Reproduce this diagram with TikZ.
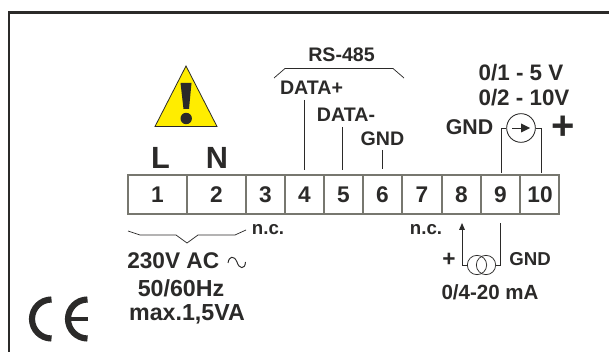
\documentclass[tikz,border=0pt]{standalone}
\usepackage{fontspec}
\setmainfont{Liberation Sans}
\definecolor{ink}{HTML}{2B2A29}
\definecolor{strip}{HTML}{77776F}
\definecolor{warn}{HTML}{FFED00}
\newcommand{\fsz}[1]{\bfseries\fontsize{#1}{#1}\selectfont}
\tikzset{
  txt/.style={text=ink,inner sep=0pt,font=\fsz{#1}},
  wire/.style={draw=ink,line width=0.55pt},
  cell/.style={draw=strip,line width=1.6pt}
}
\begin{document}
\begin{tikzpicture}[x=0.75pt,y=-0.75pt]
\useasboundingbox (0,0) rectangle (609,352);
\fill[white] (0,0) rectangle (609,352);
% frame
\draw[draw=ink,line width=2pt] (9,352) -- (9,12.5) -- (609,12.5);
% warning triangle
\draw[fill=warn,draw=ink,line width=0.6pt,line join=miter] (186,66) -- (155,126.5) -- (217,126.5) -- cycle;
\fill[ink] (180.5,83) -- (191.5,83) -- (189,109) -- (183.5,109) -- cycle;
\fill[ink] (186.2,118.5) circle (5.7);
% terminal strip
\draw[cell] (128,175) rectangle (559,214);
\foreach \x in {187,246,285,324,363,402,442,481,520}
  \draw[cell] (\x,175) -- (\x,214);
\foreach \x/\t/\n in {157.5/1/t1,216.5/2/t2,265.5/3/t3,304.5/4/t4,343.5/5/t5,382.5/6/t6,422/7/t7,461.5/8/t8,500.5/9/t9,540/10/t10}
  \node[txt=17] (\n) at (\x,195) {\t};
% L N
\node[txt=23] (L) at (160.5,158) {L};
\node[txt=23] (N) at (217,158) {N};
% RS-485
\node[txt=14.7] (rs) at (341.5,55) {RS-485};
\coordinate (b1) at (274,78);
\coordinate (b2) at (404,78);
\draw[wire] (b1) -- (285,68.5) -- (393,68.5) -- (b2);
\node[txt=14.7] (dp) at (311.5,88) {DATA+};
\node[txt=14.7] (dm) at (346,115) {DATA-};
\node[txt=14.7] (g6) at (382.5,139) {GND};
\coordinate (a4t) at (304.5,100);
\coordinate (a4) at (304.5,170);
\coordinate (a5t) at (342,127);
\coordinate (a5) at (342,170);
\coordinate (a6t) at (382.5,150);
\coordinate (a6) at (382.5,169);
\draw[wire] (a4t) -- (a4);
\draw[wire] (a5t) -- (a5);
\draw[wire] (a6t) -- (a6);
% voltage
\node[txt=16.8] (v1) at (521,73) {0/1 - 5 V};
\node[txt=16.8] (v2) at (524,98) {0/2 - 10V};
\node[txt=16] (g9) at (469.5,127) {GND};
\node[txt=30] (plus) at (563.5,127.5) {+};
\node[circle,draw=ink,line width=0.65pt,inner sep=0pt,minimum size=21.5pt] (vm) at (521,128) {};
\coordinate (a9) at (501,173);
\coordinate (a10) at (541.5,173);
\draw[wire] (vm.west) -| (a9);
\draw[wire] (vm.east) -| (a10);
\coordinate (m1) at (512,128);
\coordinate (m2) at (524,128);
\draw[wire] (m1) -- (m2);
\fill[ink] (521,123.5) -- (530,128) -- (521,132.5) -- cycle;
% lower left
\coordinate (bl) at (128,231);
\coordinate (br) at (246,230);
\draw[wire] (bl) -- (140,235) -- (176,235) -- (187,243) -- (198,235) -- (235,235) -- (br);
\node[txt=14] (nc1) at (268,230) {n.c.};
\node[txt=17,anchor=west] (ac) at (127,261) {230V AC};
\draw[draw=ink,line width=0.7pt] (228,263) .. controls (229,256) and (234,255) .. (237,262) .. controls (239,269) and (245,270) .. (245.5,262);
\node[txt=17.4] (hz) at (181,288) {50/60Hz};
\node[txt=17.4] (va) at (187,314) {max.1,5VA};
% CE
\draw[ink,line width=4.6pt] (51.5,299.5) arc (270:90:19.5);
\draw[ink,line width=4.6pt] (87.5,299.5) arc (270:90:19.5);
\draw[ink,line width=3.5pt] (68,319) -- (87.5,319);
% lower right
\node[txt=14] (nc2) at (426,230) {n.c.};
\coordinate (c8b) at (462,265);
\coordinate (c8t) at (462,229);
\draw[wire] (c8b) -- (c8t);
\fill[ink] (462,223) -- (459,230) -- (465,230) -- cycle;
\node[txt=17] (ip) at (449,260) {+};
\node[circle,draw=ink,line width=0.55pt,inner sep=0pt,minimum size=14.5pt] (c1) at (477,265) {};
\node[circle,draw=ink,line width=0.55pt,inner sep=0pt,minimum size=14.5pt] (c2) at (486,265) {};
\coordinate (c9t) at (500,223);
\draw[wire] (c1.west) -- (c8b);
\draw[wire] (c2.east) -| (c9t);
\node[txt=14] (g8) at (530,259) {GND};
\node[txt=15.4] (ma) at (490,292) {0/4-20 mA};
\end{tikzpicture}
\end{document}
